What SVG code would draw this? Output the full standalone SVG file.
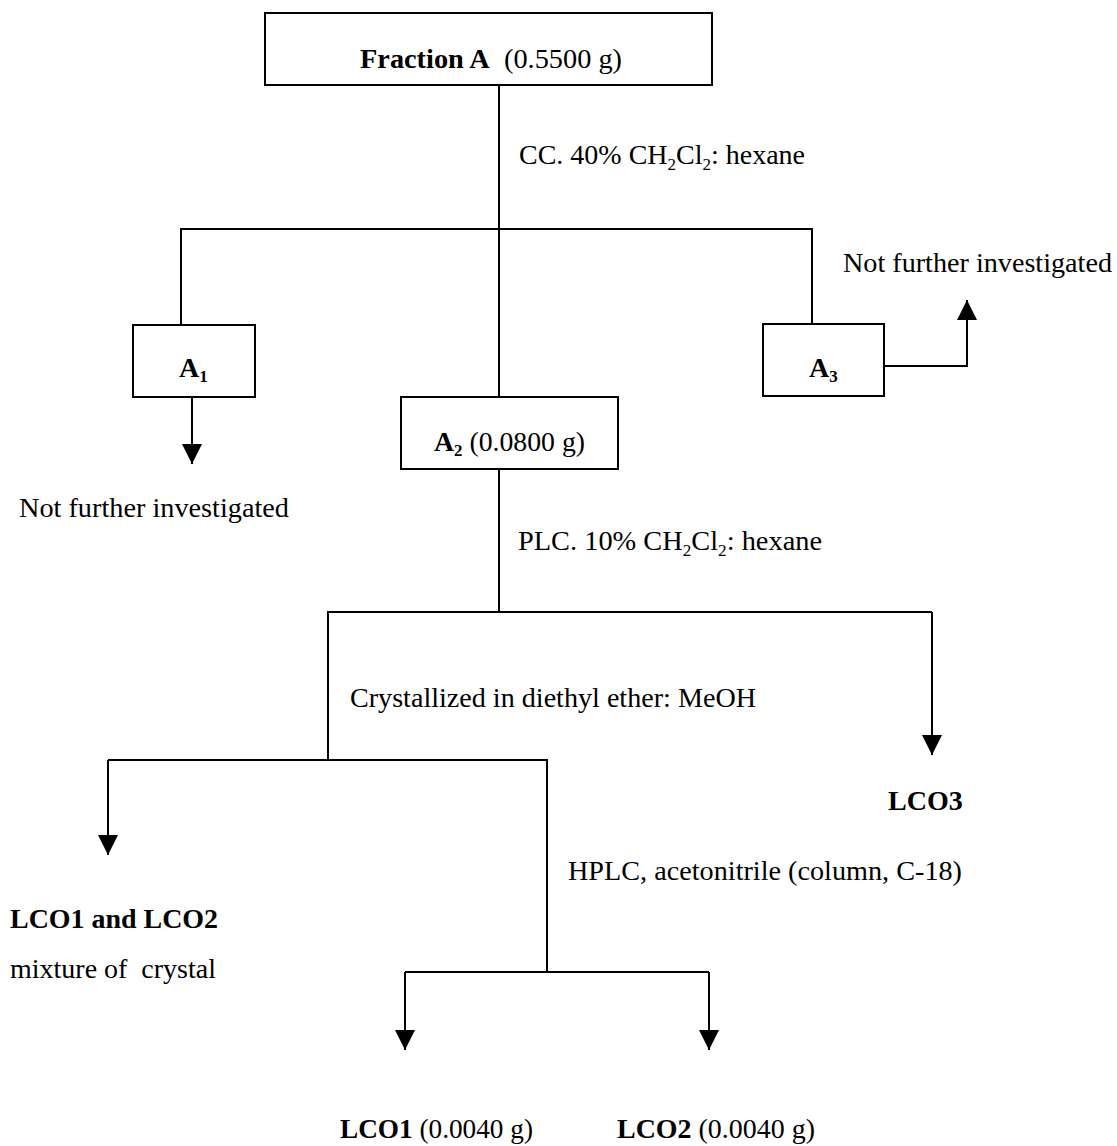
<svg xmlns="http://www.w3.org/2000/svg" width="1117" height="1146" viewBox="0 0 1117 1146">
  <defs>
    <marker id="arrow" viewBox="0 0 20 20" refX="20" refY="10" markerWidth="20" markerHeight="20" markerUnits="userSpaceOnUse" orient="auto">
      <path d="M0,0 L20,10 L0,20 Z" fill="#000"/>
    </marker>
    <style>
      .box { fill: #fff; stroke: #000; stroke-width: 2; }
      .wire { fill: none; stroke: #000; stroke-width: 2; }
      .arr { fill: none; stroke: #000; stroke-width: 2; marker-end: url(#arrow); }
      text { font-family: "Liberation Serif", "Times New Roman", serif; font-size: 28px; fill: #000; }
      .b { font-weight: bold; }
      .sub { font-size: 17px; }
    </style>
  </defs>
  <rect width="1117" height="1146" fill="#fff"/>

  <!-- connectors -->
  <g id="connectors">
    <path class="wire" d="M499,85 V397"/>
    <path class="wire" d="M181,325 V229 H812 V324"/>
    <path class="arr" d="M192,397 V464"/>
    <path class="arr" d="M884,366 H967 V300"/>
    <path class="wire" d="M499,469 V612"/>
    <path class="wire" d="M328,760 V612 H932"/>
    <path class="arr" d="M932,612 V755"/>
    <path class="wire" d="M547,972 V760 H108"/>
    <path class="arr" d="M108,760 V855"/>
    <path class="wire" d="M405,972 H709"/>
    <path class="arr" d="M405,972 V1050"/>
    <path class="arr" d="M709,972 V1050"/>
  </g>

  <!-- step labels -->
  <g id="step-labels">
    <text x="519" y="164" textLength="286" lengthAdjust="spacingAndGlyphs">CC. 40% CH<tspan class="sub" dy="6">2</tspan><tspan dy="-6">Cl</tspan><tspan class="sub" dy="6">2</tspan><tspan dy="-6">: hexane</tspan></text>
    <text x="518" y="550" textLength="304" lengthAdjust="spacingAndGlyphs">PLC. 10% CH<tspan class="sub" dy="6">2</tspan><tspan dy="-6">Cl</tspan><tspan class="sub" dy="6">2</tspan><tspan dy="-6">: hexane</tspan></text>
    <text x="350" y="707" textLength="406" lengthAdjust="spacingAndGlyphs">Crystallized in diethyl ether: MeOH</text>
    <text x="568" y="880" textLength="394" lengthAdjust="spacingAndGlyphs">HPLC, acetonitrile (column, C-18)</text>
  </g>

  <g id="fraction-a">
    <rect class="box" x="265" y="13" width="447" height="72"/>
    <text x="360" y="68" textLength="262" lengthAdjust="spacingAndGlyphs" xml:space="preserve"><tspan class="b">Fraction A</tspan>  (0.5500 g)</text>
  </g>

  <g id="a1">
    <rect class="box" x="133" y="325" width="122" height="72"/>
    <text class="b" x="179" y="377">A<tspan class="sub" dy="5">1</tspan></text>
  </g>

  <g id="a1-out">
    <text x="19" y="517" textLength="270" lengthAdjust="spacingAndGlyphs">Not further investigated</text>
  </g>

  <g id="a2">
    <rect class="box" x="401" y="397" width="217" height="72"/>
    <text x="434" y="451" textLength="151" lengthAdjust="spacingAndGlyphs"><tspan class="b">A</tspan><tspan class="b sub" dy="5">2</tspan><tspan dy="-5"> (0.0800 g)</tspan></text>
  </g>

  <g id="a3">
    <rect class="box" x="763" y="324" width="121" height="72"/>
    <text class="b" x="809" y="377">A<tspan class="sub" dy="5">3</tspan></text>
  </g>

  <g id="a3-out">
    <text x="843" y="272" textLength="269" lengthAdjust="spacingAndGlyphs">Not further investigated</text>
  </g>

  <g id="lco3">
    <text class="b" x="888" y="810">LCO3</text>
  </g>

  <g id="lco1-lco2-mixture">
    <text class="b" x="10" y="928" textLength="208" lengthAdjust="spacingAndGlyphs">LCO1 and LCO2</text>
    <text x="10" y="978" textLength="206" lengthAdjust="spacingAndGlyphs" xml:space="preserve">mixture of  crystal</text>
  </g>

  <g id="lco1">
    <text x="340" y="1138" textLength="193" lengthAdjust="spacingAndGlyphs"><tspan class="b">LCO1</tspan> (0.0040 g)</text>
  </g>

  <g id="lco2">
    <text x="617" y="1138" textLength="198" lengthAdjust="spacingAndGlyphs"><tspan class="b">LCO2</tspan> (0.0040 g)</text>
  </g>
</svg>
